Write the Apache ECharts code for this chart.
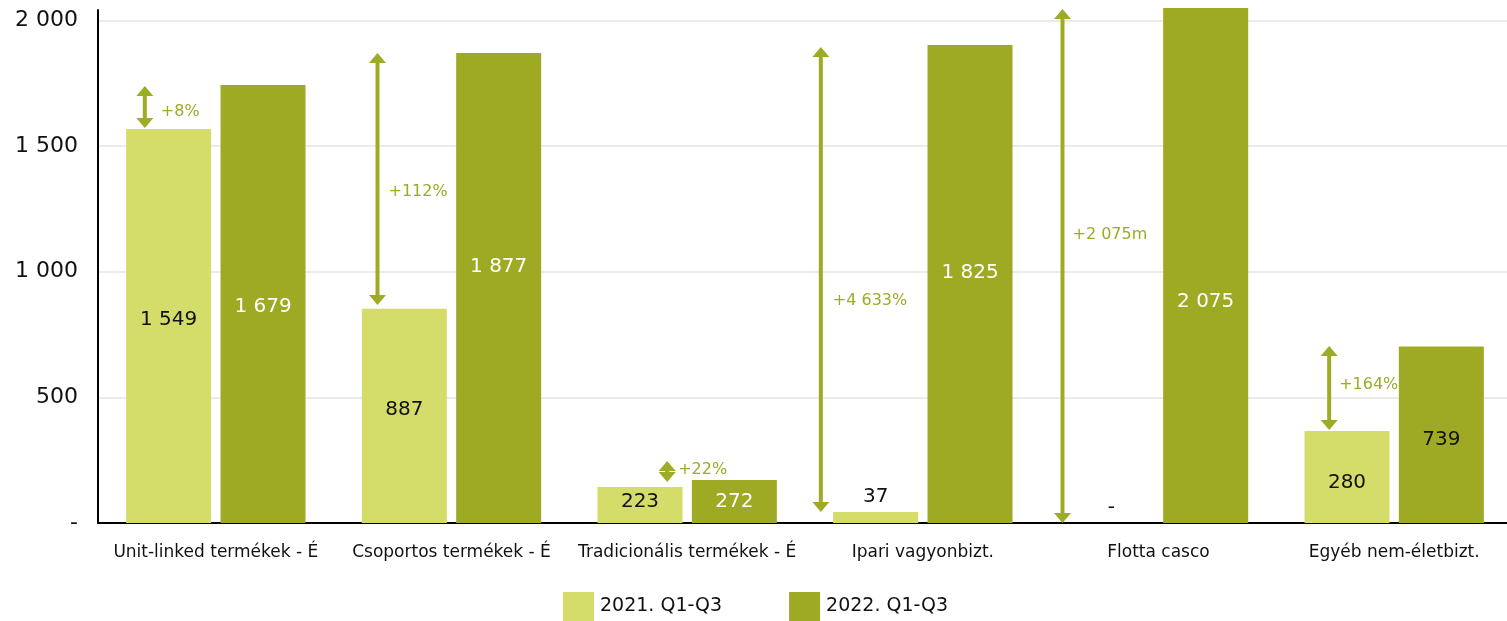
<!DOCTYPE html>
<html>
<head>
<meta charset="utf-8">
<script src="https://cdn.jsdelivr.net/npm/echarts@6/dist/echarts.min.js"></script>
<style>
html,body{margin:0;padding:0;background:#fff;}
#chart{width:1507px;height:621px;}
</style>
</head>
<body>
<div id="chart"></div>
<script>
// ---- data ----
const categories = ['Unit-linked termékek - É','Csoportos termékek - É','Tradicionális termékek - É','Ipari vagyonbizt.','Flotta casco','Egyéb nem-életbizt.'];
const seriesNames = ['2021. Q1-Q3','2022. Q1-Q3'];
const bars2021 = [1568, 852, 143, 44, 0, 366];
const bars2022 = [1743, 1870, 171, 1902, 2049, 702];
const labels2021 = ['1 549','887','223','37','-','280'];
const labels2022 = ['1 679','1 877','272','1 825','2 075','739'];
const arrowLow = [1572, 867, 163, 44, 0, 370];
const arrowHigh = [1739, 1870, 247, 1894, 2045, 704];
const growthLabels = ['+8%','+112%','+22%','+4 633%','+2 075m','+164%'];
const yTicks = [0, 500, 1000, 1500, 2000];

// ---- layout tweaks (pixels) ----
const arrowDx = [-71, -74, -20, -102, -96, -65];
const growthLabelDx = [16, 11, 11, 12, 10, 10];
const growthLabelDy = [5, 13, -2, 21, -31, -3];
const labelDy2021 = [-6, -6, -3, null, null, 6];
const labelDy2022 = [3, -21, 0, -11, 36, 5];
const darkLabelOn2022 = [false, false, false, false, false, true];

const LIGHT = '#d4dc6a';
const DARK = '#9eaa24';
const ARROW = '#9dab25';
const FONT = 'DejaVu Sans';

function fmt(v){
  if (v === 0) return '-';
  return String(v).replace(/\B(?=(\d{3})+(?!\d))/g, ' ');
}

const data2021 = bars2021.map((v, i) => {
  const dy = labelDy2021[i];
  const lab = { formatter: labels2021[i] };
  if (dy === null) { lab.position = 'top'; lab.distance = 5; }
  else { lab.position = 'inside'; lab.offset = [0, dy]; }
  return { value: v, label: lab };
});
const data2022 = bars2022.map((v, i) => ({
  value: v,
  label: { formatter: labels2022[i], position: 'inside', offset: [0, labelDy2022[i]], color: darkLabelOn2022[i] ? '#111' : '#fff' }
}));
const arrowData = categories.map((c, i) => [i, arrowLow[i], arrowHigh[i]]);

const chart = echarts.init(document.getElementById('chart'), null, {renderer: 'canvas'});
chart.setOption({
  animation: false,
  textStyle: { fontFamily: FONT },
  grid: { left: 98, top: 10, width: 1414, bottom: 98, containLabel: false, outerBoundsMode: 'none' },
  legend: {
    left: 563, top: 592, padding: 0,
    itemWidth: 31, itemHeight: 29, itemGap: 67,
    icon: 'rect',
    data: seriesNames,
    textStyle: { fontFamily: FONT, fontSize: 19, color: '#111', padding: [0, 0, 0, 1] }
  },
  xAxis: {
    type: 'category',
    data: categories,
    axisLine: { show: true, lineStyle: { color: '#000', width: 2 } },
    axisTick: { show: false },
    axisLabel: { color: '#111', fontSize: 17, fontFamily: FONT, margin: 21, interval: 0 },
    splitLine: { show: false }
  },
  yAxis: {
    type: 'value',
    min: yTicks[0],
    max: 2041,
    interval: yTicks[1] - yTicks[0],
    axisLine: { show: true, lineStyle: { color: '#000', width: 2 } },
    axisTick: { show: false },
    axisLabel: { color: '#111', fontSize: 22, fontFamily: FONT, margin: 20, formatter: fmt, showMaxLabel: false },
    splitLine: { show: true, showMaxLine: false, showMinLine: false, lineStyle: { color: '#ebebeb', width: 2 } }
  },
  series: [
    {
      name: seriesNames[0], type: 'bar', data: data2021,
      barWidth: 85, barGap: '11%', clip: false,
      itemStyle: { color: LIGHT },
      label: { show: true, color: '#111', fontSize: 20, fontFamily: FONT }
    },
    {
      name: seriesNames[1], type: 'bar', data: data2022,
      barWidth: 85, barGap: '11%', clip: false,
      itemStyle: { color: DARK },
      label: { show: true, color: '#fff', fontSize: 20, fontFamily: FONT }
    },
    {
      type: 'custom', name: 'arrows', data: arrowData, clip: false, z: 5, silent: true,
      renderItem: function (params, api) {
        const i = api.value(0);
        const pLow = api.coord([i, api.value(1)]);
        const pHigh = api.coord([i, api.value(2)]);
        const x = pLow[0] + arrowDx[i];
        const yb = pLow[1];
        const yt = pHigh[1];
        const hw = 8.5, hh = 10, sw = 2;
        const children = [];
        if (yb - yt > 2 * hh) {
          children.push({ type: 'rect', shape: { x: x - sw, y: yt + hh - 1, width: 2 * sw, height: (yb - yt) - 2 * hh + 2 }, style: { fill: ARROW } });
        }
        children.push({ type: 'polygon', shape: { points: [[x, yt], [x - hw, yt + hh], [x + hw, yt + hh]] }, style: { fill: ARROW } });
        children.push({ type: 'polygon', shape: { points: [[x, yb], [x - hw, yb - hh], [x + hw, yb - hh]] }, style: { fill: ARROW } });
        children.push({
          type: 'text',
          style: {
            text: growthLabels[i],
            x: x + growthLabelDx[i],
            y: (yt + yb) / 2 + growthLabelDy[i],
            fill: ARROW, fontSize: 16, fontFamily: FONT,
            align: 'left', verticalAlign: 'middle'
          }
        });
        return { type: 'group', children: children };
      }
    }
  ]
});
</script>
</body>
</html>
